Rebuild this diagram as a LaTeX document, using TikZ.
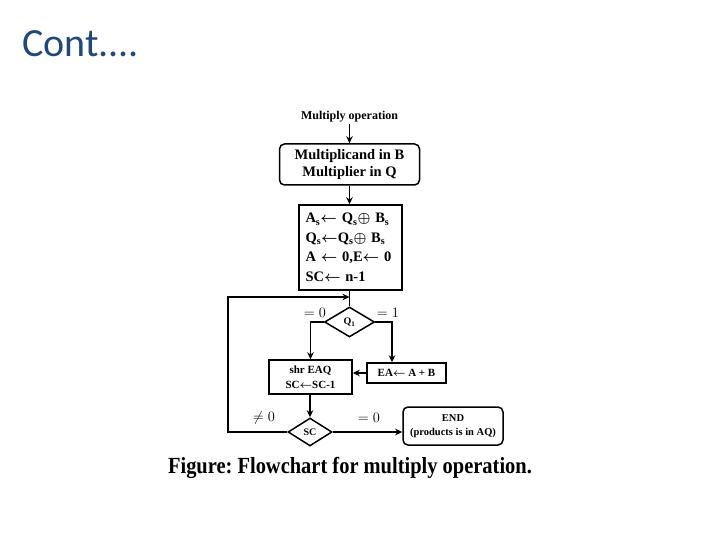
\documentclass[tikz,border=0pt]{standalone}
\usepackage{amsmath,bm}
\usepackage{fontspec}
\setmainfont{Liberation Serif}
\newfontfamily\titlefont{Carlito}
\usetikzlibrary{shapes.geometric,arrows.meta}
\definecolor{titleblue}{HTML}{1F497D}
\newcommand{\la}{$\bm{\leftarrow}$}
\newcommand{\xo}{$\bm{\oplus}$}
\frenchspacing
\begin{document}
\begin{tikzpicture}[x=1pt,y=-1pt,
  line width=1.5pt,
  arr/.style={-{Stealth[length=7pt,width=6.5pt]}},
  box/.style={draw, inner sep=1pt, font=\bfseries},
  dia/.style={draw, diamond, inner sep=0pt, font=\bfseries\fontsize{10}{11}\selectfont},
  lbl/.style={font=\fontsize{14}{15}\selectfont, inner sep=0pt}
]
\useasboundingbox (0,0) rectangle (720,540);
\node[anchor=west, text=titleblue, font=\titlefont\fontsize{40}{44}\selectfont] (title) at (18,44) {Cont....};

\node[font=\bfseries\fontsize{12}{13}\selectfont, inner sep=1pt] (start) at (349.5,117) {Multiply operation};
\node[box, rounded corners=5pt, minimum width=140pt, minimum height=41pt, align=center,
  font=\bfseries\fontsize{14.5}{17}\selectfont] (b1) at (349.5,164.5)
  {Multiplicand in B\\Multiplier in Q};
\node[box, minimum width=103pt, minimum height=85pt, align=left, text width=90pt,
  font=\bfseries\fontsize{14.5}{19.5}\selectfont] (b2) at (350.5,247.5)
  {A\textsubscript{s}\la{} Q\textsubscript{s}\xo{} B\textsubscript{s}\\
   Q\textsubscript{s}\la{}Q\textsubscript{s}\xo{} B\textsubscript{s}\\
   A \la{} 0,E\la{} 0\\
   SC\la{} n-1};
\node[dia, minimum width=50pt, minimum height=30pt] (q) at (349.5,322) {Q\textsubscript{1}};
\node[box, minimum width=83pt, minimum height=34pt, align=center,
  font=\bfseries\fontsize{11}{15}\selectfont] (b3) at (310.5,377)
  {shr EAQ\\SC\la{}SC-1};
\node[box, minimum width=79pt, minimum height=20pt,
  font=\bfseries\fontsize{11}{13}\selectfont] (b4) at (406.5,373)
  {EA\la{} A + B};
\node[dia, minimum width=44pt, minimum height=28pt] (sc) at (310,432) {SC};
\node[box, rounded corners=5pt, minimum width=100pt, minimum height=38pt, align=center,
  font=\bfseries\fontsize{10.5}{14}\selectfont] (end) at (453,426)
  {END\\(products is in AQ)};

\node[lbl] (l0) at (315,313) {$=0$};
\node[lbl] (l1) at (388,313) {$=1$};
\node[lbl] (l2) at (264,418) {$\neq 0$};
\node[lbl] (l3) at (369,418) {$=0$};

\node[font=\bfseries\fontsize{22}{24}\selectfont] (cap) at (350,468) {\scalebox{0.93}[1.05]{Figure: Flowchart for multiply operation.}};

\coordinate (j) at (349.5,297);
\coordinate (lc) at (228,432);
\coordinate (rc) at (392,322);

\draw[arr] (start) -- (b1);
\draw[arr] (b1) -- (b1 |- b2.north);
\draw (b2.south -| q.north) -- (q.north);
\draw[arr] (q.west) -| (b3.north);
\draw[arr] (q.east) -- (rc) -- (rc |- b4.north);
\draw[arr] (b4.west) -- (b3.east |- b4.west);
\draw[arr] (b3.south -| sc.north) -- (sc.north);
\draw[arr] (sc.east) -- (sc.east -| end.west);
\draw[arr] (sc.west) -- (lc) -- (lc |- j) -- (j);
\end{tikzpicture}
\end{document}
